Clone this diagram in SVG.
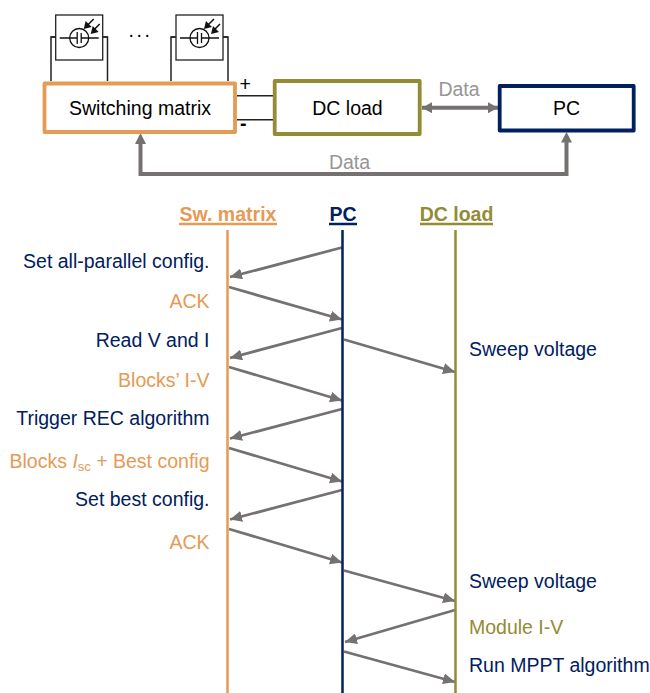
<svg xmlns="http://www.w3.org/2000/svg" width="650" height="693" viewBox="0 0 650 693">
<style>
text{font-family:"Liberation Sans",Arial,sans-serif;font-size:19.500px}
.blk{fill:#000}.navy{fill:#002060}.org{fill:#e59a55}.olv{fill:#948b35}.gry{fill:#969696}
.e{text-anchor:end}.m{text-anchor:middle}
.box{fill:#fff;stroke-width:3.800;stroke-linejoin:round}
.thin{fill:none;stroke:#222;stroke-width:1.500}
.msg{stroke:#767171;stroke-width:2.800;fill:none;marker-end:url(#a)}
.data{stroke:#767171;stroke-width:4;fill:none}
.b{font-weight:bold}
</style>
<defs>
<marker id="a" markerUnits="userSpaceOnUse" markerWidth="13" markerHeight="11" refX="12" refY="5.500" orient="auto"><path d="M0 0L12 5.500L0 11z" fill="#767171"/></marker>
<marker id="d" markerUnits="userSpaceOnUse" markerWidth="11" markerHeight="12" refX="10" refY="5.500" orient="auto-start-reverse"><path d="M0 0L10 5.500L0 11z" fill="#767171"/></marker>
<g id="pvcell">
<rect x="0" y="0" width="47" height="45" fill="#fff" stroke="#222" stroke-width="1.300"/>
<path d="M-5 22H0M47 22H52" stroke="#222" stroke-width="1.300" fill="none"/>
<path d="M4 23H14M33 23H43" stroke="#111" stroke-width="1.300"/>
<circle cx="23.500" cy="23" r="9.500" fill="none" stroke="#111" stroke-width="1.300"/>
<path d="M14 23H21.500M21.500 17V29M25.500 18V28M25.500 23H33" stroke="#111" stroke-width="1.300" fill="none"/>
<path d="M38 4L31 11M44 9L38 15" stroke="#111" stroke-width="1.500"/>
<path d="M28 14L30 6L36 12zM35 19L37 11L43 17z" fill="#111"/>
</g>
</defs>
<g id="connectors">
<path class="thin" d="M51 81V37H55M103 37H107.500V81"/>
<path class="thin" d="M171 81V37H175M223 37H228V81"/>
<path class="thin" d="M237 95.700H274M237 119.700H274"/>
<path class="data" d="M140.500 140V174H566.500V140"/>
<path d="M135 144L140.500 133L146 144z" fill="#767171"/>
<path d="M561 142.500L566.500 132L572 142.500z" fill="#767171"/>
<path class="data" d="M422 107.700H498" marker-start="url(#d)" marker-end="url(#d)"/>
<line class="msg" x1="342" y1="247.500" x2="230" y2="277"/>
<line class="msg" x1="229" y1="287" x2="342" y2="319.500"/>
<line class="msg" x1="342" y1="328" x2="230" y2="358"/>
<line class="msg" x1="229" y1="367" x2="342" y2="400.500"/>
<line class="msg" x1="342" y1="409" x2="230" y2="438.500"/>
<line class="msg" x1="229" y1="448" x2="342" y2="481.500"/>
<line class="msg" x1="342" y1="490" x2="230" y2="519.500"/>
<line class="msg" x1="229" y1="529" x2="342" y2="562.500"/>
<line class="msg" x1="344" y1="339.500" x2="455" y2="372"/>
<line class="msg" x1="344" y1="570.500" x2="455" y2="601"/>
<line class="msg" x1="455" y1="610" x2="345" y2="642"/>
<line class="msg" x1="344" y1="651.500" x2="455" y2="682"/>
</g>
<g id="lifelines">
<line x1="227.500" y1="230" x2="227.500" y2="693" stroke="#e59a55" stroke-width="2.500"/>
<line x1="342.500" y1="230" x2="342.500" y2="693" stroke="#002060" stroke-width="2.500"/>
<line x1="455.500" y1="230" x2="455.500" y2="693" stroke="#948b35" stroke-width="2.500"/>
</g>
<use id="pv-1" href="#pvcell" x="55.700" y="15"/>
<use id="pv-2" href="#pvcell" x="176" y="15"/>
<g id="ellipsis"><text class="blk m" x="140.500" y="37" letter-spacing="2.500">...</text></g>
<g id="switching-matrix"><rect class="box" x="44.500" y="83.500" width="190.500" height="48.500" stroke="#e59a55"/><text class="blk m" x="140" y="115">Switching matrix</text></g>
<g id="polarity"><text class="blk" x="239.500" y="91">+</text><text class="blk" x="240" y="130" font-weight="bold">-</text></g>
<g id="dc-load"><rect class="box" x="274.700" y="81" width="145" height="53" stroke="#948b35"/><text class="blk m" x="347.500" y="114.500">DC load</text></g>
<g id="pc"><rect class="box" x="499.700" y="86" width="134" height="44.500" stroke="#002060"/><text class="blk m" x="566.500" y="114.500">PC</text></g>
<text class="gry m" x="459" y="96">Data</text>
<text class="gry m" x="349.500" y="168.500">Data</text>
<g id="headers">
<text class="org m b" x="228" y="220.500">Sw. matrix</text><line x1="179" y1="224" x2="277" y2="224" stroke="#e59a55" stroke-width="2.500"/>
<text class="navy m b" x="343" y="220.500">PC</text><line x1="329" y1="224" x2="357" y2="224" stroke="#002060" stroke-width="2.500"/>
<text class="olv m b" x="456.500" y="220.500">DC load</text><line x1="420" y1="224" x2="493" y2="224" stroke="#948b35" stroke-width="2.500"/>
</g>
<g id="labels">
<text class="navy e" x="209.500" y="268">Set all-parallel config.</text>
<text class="org e" x="209.500" y="308">ACK</text>
<text class="navy e" x="209.500" y="347">Read V and I</text>
<text class="org e" x="209.500" y="387">Blocks’ I-V</text>
<text class="navy e" x="209.500" y="425">Trigger REC algorithm</text>
<text class="org e" x="209.500" y="468">Blocks <tspan font-style="italic">I</tspan><tspan font-size="13" dy="3">sc</tspan><tspan dy="-3"> + Best config</tspan></text>
<text class="navy e" x="209.500" y="506">Set best config.</text>
<text class="org e" x="209.500" y="548.500">ACK</text>
<text class="navy" x="469" y="355.500">Sweep voltage</text>
<text class="navy" x="469" y="587.500">Sweep voltage</text>
<text class="olv" x="469" y="633.500">Module I-V</text>
<text class="navy" x="469" y="671.500">Run MPPT algorithm</text>
</g>
</svg>
